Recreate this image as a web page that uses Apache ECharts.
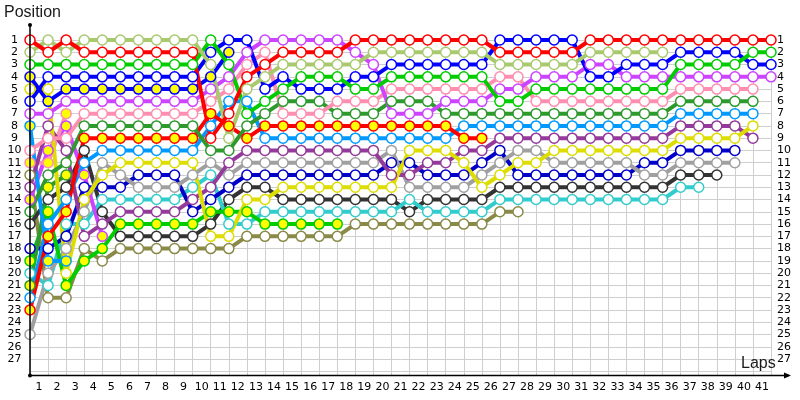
<!DOCTYPE html>
<html><head><meta charset="utf-8">
<script src="https://cdn.jsdelivr.net/npm/echarts/dist/echarts.min.js"></script>
<style>html,body{margin:0;padding:0;background:#fff}#c{width:800px;height:400px}</style>
</head><body><div id="c"></div>
<script>
// x tick labels (laps), index of each value array = lap number (0 = grid)
const lapLabels = ['1','2','3','4','5','6','7','8','9','10','11','12','13','14','15','16','17','18','19','20','21','22','23','24','25','26','27','28','29','30','31','32','33','34','35','36','37','38','39','40','41'];

const redHollow   = [1,2,1,2,2,2,2,2,2,2, 9,7,4,3,2,2,2,2,1,1, 1,1,1,1,1,1,2,2,2,2, 2,1,1,1,1,1,1,1,1,1, 1,1];
const lightGreen  = [2,1,2,1,1,1,1,1,1,1, 3,9,5,4,3,3,3,3,3,2, 2,2,2,2,2,2,3,3,3,3, 3,2,2,2,2,2];
const green       = [3,3,3,3,3,3,3,3,3,3, 1,3,7,6,5,4,4,4,5,5, 4,4,4,4,4,4,6,6,5,5, 5,5,5,5,5,5,3,3,3,3, 2,2];
const blueYellow  = [4,6,5,5,5,5,5,5,5,5, 4,2];
const blue        = [6,4,4,4,4,4,4,4,4,4, 2,1,1,5,4,5,5,5,4,4, 3,3,3,3,3,3,1,1,1,1, 1,4,4,3,3,3,2,2,2,2, 3,3];
const yellow      = [5,5,20,14,12,11,11,11,11,11, 17,17,14,14,13,13,13,13,13,13, 13,10,10,10,11,13,12,11,11,10, 10,10,10,10,10,10,9,9,9,9, 8];
const violet      = [7,7,6,6,6,6,6,6,6,6, 5,4,2,1,1,1,1,1,2,3, 7,7,7,6,6,6,5,5,4,4, 4,3,3,4,4,4,4,4,4,4, 4,4];
const lightBlueY  = [8,19,19];
const pink        = [10,9,9,7,7,7,7,7,7,7, 6,5,3,2,7,7,7,6,6,6, 5,5,5,5,5,5,4,4,6,6, 6,6,6,6,6,6,5,5,5,5, 5];
const darkGreen   = [15,12,11,8,8,8,8,8,8,8, 10,10,8,7,6,6,6,7,7,7, 6,6,6,7,7,7,7,7,7,7, 7,7,7,7,7,7,6,6,6,6, 6];
const lightBlue   = [22,16,14,11,10,10,10,10,10,10, 8,6,6,9,9,9,9,9,9,9, 9,9,9,9,8,8,8,8,8,8, 8,8,8,8,8,8,7,7,7,7, 7];
const darkPurple  = [13,8,10,17,16,15,15,15,15,14, 13,11,10,10,10,10,10,10,10,10, 12,12,11,11,10,10,9,9,9,9, 9,9,9,9,9,9,8,8,8,8, 9];
const gray        = [25,20,18,15,11,12,13,13,13,12, 11,12,11,11,11,11,11,11,11,11, 10,13,13,13,13,12,11,10,10,11, 11,11,11,11,12,12,11,11,11,11];
const darkBlue    = [18,18,17,13,13,13,12,12,12,15, 14,13,12,12,12,12,12,12,12,12, 11,11,12,12,12,11,10,12,12,12, 12,12,12,12,11,11,10,10,10,10];
const cyan        = [20,21,16,16,14,14,14,14,14,13, 12,16,16,15,15,15,15,15,15,15, 15,14,15,15,15,15,14,14,14,14, 14,14,14,14,14,14,13,13];
const black       = [16,14,13,10,15,17,17,17,17,17, 16,14,13,13,14,14,14,14,14,14, 14,15,14,14,14,14,13,13,13,13, 13,13,13,13,13,13,12,12,12];
const greenYellow = [19,15,21,19,18,16,16,16,16,16, 15,15,15,16,16,16,16,16];
const olive       = [12,22,22,18,19,18,18,18,18,18, 18,18,17,17,17,17,17,17,16,16, 16,16,16,16,16,16,15,15];
const redYellow   = [23,17,15,9,9,9,9,9,9,9, 7,8,9,8,8,8,8,8,8,8, 8,8,8,8,9,9];
const violetYellow= [14,10,8,12,17];
const pinkYellow  = [11,11,7];
const dkGreenYellow=[21,13,12];

const W = '#ffffff', Y = '#ffff00';
const cars = [
  ['olive', olive, '#8a8a48', W],
  ['black', black, '#333333', W],
  ['cyan', cyan, '#33cccc', W],
  ['darkBlue', darkBlue, '#0000c8', W],
  ['gray', gray, '#a0a0a0', W],
  ['greenYellow', greenYellow, '#00cc00', Y],
  ['dkGreenYellow', dkGreenYellow, '#2e9a2e', Y],
  ['violetYellow', violetYellow, '#cc44ff', Y],
  ['pinkYellow', pinkYellow, '#ff8fb0', Y],
  ['lightBlueY', lightBlueY, '#0099ff', Y],
  ['darkPurple', darkPurple, '#943a9a', W],
  ['yellow', yellow, '#dddd00', W],
  ['lightBlue', lightBlue, '#0099ff', W],
  ['redYellow', redYellow, '#ff0000', Y],
  ['darkGreen', darkGreen, '#2e9a2e', W],
  ['pink', pink, '#ff8fb0', W],
  ['violet', violet, '#cc44ff', W],
  ['blueYellow', blueYellow, '#0000ff', Y],
  ['blue', blue, '#0000ff', W],
  ['green', green, '#00cc00', W],
  ['lightGreen', lightGreen, '#a9c96f', W],
  ['red', redHollow, '#ff0000', W]
];

const series = cars.map(([name, arr, col, fill]) => ({
  name, type: 'line', xAxisIndex: 0, yAxisIndex: 0,
  data: arr.map((p, i) => [i, p]),
  symbol: 'circle', symbolSize: 10, showAllSymbol: true, clip: false,
  lineStyle: { color: col, width: 4 },
  itemStyle: { color: fill, borderColor: col, borderWidth: 1.5 },
  emphasis: { disabled: true }, silent: true, animation: false
}));

const posFmt = v => (Math.abs(v - Math.round(v)) < 1e-6 && v >= 1 && v <= 27) ? String(Math.round(v)) : '';
const lab = { color: '#000', fontFamily: 'DejaVu Sans', fontSize: 11 };

const chart = echarts.init(document.getElementById('c'));
chart.setOption({
  animation: false,
  grid: { left: 30, right: 29, top: 40, bottom: 25 },
  xAxis: [
    { type: 'value', position: 'top', min: 0, max: 41, interval: 1,
      axisLine: { show: false }, axisTick: { show: false }, axisLabel: { show: false },
      splitLine: { show: true, lineStyle: { color: '#cfcfcf', width: 1 } } },
    { type: 'category', position: 'bottom', data: lapLabels, boundaryGap: true,
      axisLine: { show: false }, axisTick: { show: false }, splitLine: { show: false },
      axisLabel: Object.assign({ interval: 0, margin: 7 }, lab) }
  ],
  yAxis: [
    { type: 'value', position: 'left', inverse: true, min: 1, max: 28.3, interval: 1,
      axisLine: { show: false }, axisTick: { show: false },
      splitLine: { show: true, lineStyle: { color: '#cfcfcf', width: 1 } },
      axisLabel: Object.assign({ formatter: posFmt, align: 'center', margin: 15.5 }, lab) },
    { type: 'value', position: 'right', inverse: true, min: 1, max: 28.3, interval: 1,
      axisLine: { show: false }, axisTick: { show: false }, splitLine: { show: false },
      axisLabel: Object.assign({ formatter: posFmt, align: 'left', margin: 6 }, lab) }
  ],
  graphic: [
    { type: 'line', shape: { x1: 30, y1: 25, x2: 30, y2: 375.5 }, style: { stroke: '#000', lineWidth: 1.5 }, z: 100 },
    { type: 'line', shape: { x1: 30, y1: 375.5, x2: 789, y2: 375.5 }, style: { stroke: '#000', lineWidth: 1.5 }, z: 100 },
    { type: 'circle', shape: { cx: 30, cy: 25, r: 2 }, style: { fill: '#000' }, z: 100 },
    { type: 'circle', shape: { cx: 30, cy: 375.5, r: 2 }, style: { fill: '#000' }, z: 100 },
    { type: 'polygon', shape: { points: [[791, 375.5], [784, 372.5], [784, 378.5]] }, style: { fill: '#000' }, z: 100 },
    { type: 'text', left: 4, top: 5, style: { text: 'Position', fill: '#1a1a1a', font: '16px "Liberation Sans", Arial, sans-serif' }, z: 100 },
    { type: 'text', left: 741, top: 356, style: { text: 'Laps', fill: '#1a1a1a', font: '16px "Liberation Sans", Arial, sans-serif' }, z: 100 }
  ],
  series
});
</script>
</body></html>
